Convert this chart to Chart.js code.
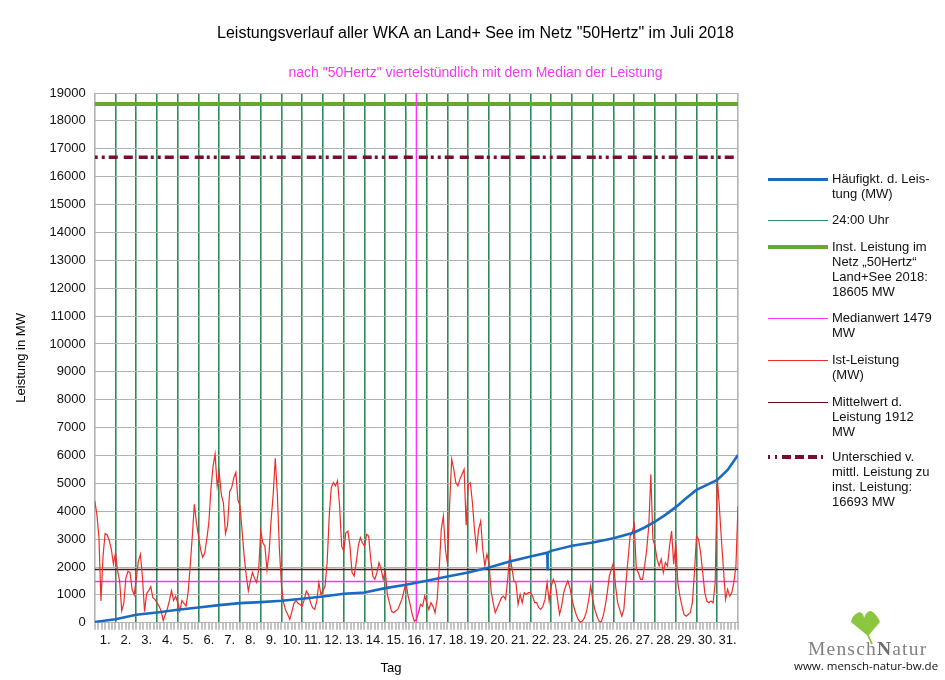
<!DOCTYPE html>
<html>
<head>
<meta charset="utf-8">
<script src="https://cdn.jsdelivr.net/npm/chart.js@4.4.1/dist/chart.umd.min.js"></script>
<style>
  body { margin: 0; background: #fff; }
  #wrap { position: relative; width: 945px; height: 680px; font-family: "Liberation Sans", Arial, sans-serif; }
  canvas { position: absolute; left: 0; top: 0; }
  .item { position: absolute; left: 768px; font-size: 13px; line-height: 15px; color: #111; }
  .item .smp { position: absolute; left: 0; width: 60px; }
  .item svg { position: absolute; left: 0; top: 0; }
  .item .txt { position: absolute; left: 64px; top: 0; white-space: nowrap; }
  #logo { position: absolute; left: 790px; top: 605px; width: 155px; height: 75px; }
  #logo .name { position: absolute; left: 18px; top: 33px; font-family: "Liberation Serif", serif; font-size: 19.5px; color: #808080; letter-spacing: 1.2px; }
  #logo .name b { font-weight: bold; color: #6e6e6e; }
  #logo .url { position: absolute; left: 4px; top: 53px; font-family: "Open Sans", sans-serif; font-size: 11.5px; color: #111; white-space: nowrap; }
</style>
</head>
<body>
<div id="wrap">
  <canvas id="myChart" width="945" height="680"></canvas>
  <div id="legend"></div>
  <div id="logo">
    <svg width="155" height="45" style="position:absolute;left:0;top:0">
      <path d="M78 31 L61 17 C62 11 66 8 70 7 C72 8 74 10 74 13 C76 8 78 6 81 6 C85 8 88 12 90 17 Z" fill="#8cc63e"/>
      <path d="M78 30 Q80 35 82 39" stroke="#8cc63e" stroke-width="1.8" fill="none"/>
    </svg>
    <div class="name">Mensch<b>N</b>atur</div>
    <div class="url">www. mensch-natur-bw.de</div>
  </div>
</div>
<script>
// Juli 2018, Tage 1..31
const dayLabels = ['1.','2.','3.','4.','5.','6.','7.','8.','9.','10.','11.','12.','13.','14.','15.','16.',
  '17.','18.','19.','20.','21.','22.','23.','24.','25.','26.','27.','28.','29.','30.','31.'];

const samplesPerDay = 10;
const istMW = [
  4370, 3900, 3100, 780, 2400, 3200, 3150, 2950, 2630, 2100,
  2500, 1860, 1500, 430, 700, 1600, 1850, 1800, 1200, 1000,
  1560, 2200, 2460, 1620, 400, 1050, 1150, 1300, 900, 840,
  720, 600, 420, 80, 300, 500, 800, 1150, 800, 950,
  720, 420, 800, 700, 600, 1100, 2040, 3100, 4250, 3600,
  3100, 2630, 2350, 2500, 3000, 3600, 4800, 5600, 6050, 4900,
  5400, 4600, 4300, 3200, 3500, 4700, 4850, 5200, 5400, 4400,
  4200, 3300, 2400, 1700, 1140, 1500, 1800, 1600, 1450, 1900,
  3300, 2870, 2750, 1900, 2500, 3700, 4600, 5900, 4600, 2630,
  1320, 720, 450, 300, 120, 400, 700, 800, 700, 650,
  600, 840, 1140, 1020, 720, 540, 480, 780, 1440, 1020,
  1140, 1320, 2160, 3830, 4850, 5030, 4910, 5090, 4190, 2750,
  2570, 3230, 3290, 2750, 1800, 1680, 2160, 2750, 3050, 2870,
  2750, 3170, 3110, 2280, 1680, 1560, 1800, 2160, 1920, 1560,
  1860, 1020, 720, 420, 360, 420, 480, 660, 840, 1140,
  1440, 960, 660, 300, 60, 120, 360, 660, 600, 960,
  720, 480, 720, 600, 360, 840, 1920, 3350, 3830, 2630,
  2100, 4190, 5870, 5510, 5030, 4910, 5150, 5330, 5510, 3500,
  4970, 5030, 4310, 3350, 2630, 3350, 3650, 2630, 2040, 2460,
  2160, 1140, 720, 360, 540, 720, 900, 960, 840, 1560,
  2460, 1980, 1500, 1440, 660, 1020, 720, 1080, 1020, 1080,
  1080, 960, 720, 720, 540, 480, 600, 840, 1440, 780,
  1320, 1560, 1380, 840, 300, 600, 1080, 1320, 1500, 1260,
  840, 540, 300, 120, 24, 60, 180, 400, 800, 1320,
  840, 480, 240, 60, 24, 240, 600, 1080, 1680, 1920,
  2160, 1320, 720, 480, 240, 480, 1440, 2280, 3110, 3230,
  3530, 1920, 1800, 1560, 1560, 2040, 2630, 3470, 5330, 2990,
  2750, 2280, 2040, 2280, 1800, 2160, 2040, 2750, 3290, 2100,
  2870, 1440, 960, 600, 300, 240, 300, 360, 720, 1800,
  3110, 2990, 2510, 1800, 1080, 780, 720, 780, 720, 1440,
  5210, 4190, 2990, 1920, 840, 1200, 960, 1080, 1440, 2040,
  4190
];

// Haeufigkeit d. Leistung (sortiert)
const sortedDays = [0, 1, 2, 3, 4, 5, 6, 7, 8, 9, 10, 11, 12, 13, 14, 15, 16, 17, 18, 19, 20, 21,
  21.81, 21.82, 21.83, 22, 23, 24, 25, 26, 26.5, 27, 27.5, 28, 28.5, 29, 29.5, 30, 30.5, 31];
const sortedMW = [30, 130, 290, 370, 466, 550, 634, 706, 742, 789, 860, 944, 1040, 1087, 1243, 1362,
  1505, 1660, 1804, 1983, 2198, 2377, 2515, 1875, 2520, 2580, 2760, 2878, 3035, 3237, 3418, 3631,
  3871, 4147, 4469, 4767, 4946, 5125, 5484, 6021];

const instLeistung = 18605;
const unterschied = 16693;
const medianwert = 1479;
const mittelwert = 1912;
const medianDay = 15.5;
const monthDays = 31;

const yTicks = { min: 0, max: 19000, step: 1000 };

const cGreenDay = '#2f8a5a';
const cGrid = '#b3b3b3';

function hline(v) {
  return [{ x: 0, y: v }, { x: monthDays, y: v }];
}

const datasets = [
  {
    label: 'Häufigkt. d. Leistung (MW)',
    data: sortedDays.map((d, i) => ({ x: d, y: sortedMW[i] })),
    borderColor: '#1b6ac2', borderWidth: 2.6
  },
  {
    label: 'Ist-Leistung (MW)',
    data: istMW.map((v, i) => ({ x: i / samplesPerDay, y: v })),
    borderColor: '#ea2f2a', borderWidth: 1.2
  },
  {
    label: 'Medianwert 1479 MW',
    data: hline(medianwert).concat([{ x: medianDay, y: null }, { x: medianDay, y: yTicks.min }, { x: medianDay, y: yTicks.max }]),
    borderColor: '#ff33ff', borderWidth: 1.4, spanGaps: false
  },
  {
    label: 'Mittelwert d. Leistung 1912 MW',
    data: hline(mittelwert),
    borderColor: '#5a0c18', borderWidth: 1.3
  },
  {
    label: 'Unterschied v. mittl. Leistung zu inst. Leistung: 16693 MW',
    data: hline(unterschied),
    borderColor: '#7a0d2e', borderWidth: 3.5,
    borderDash: [3, 4, 3, 4, 9, 6, 9, 6, 9, 3]
  },
  {
    label: 'Inst. Leistung im Netz 50Hertz Land+See 2018: 18605 MW',
    data: hline(instLeistung),
    borderColor: '#66a832', borderWidth: 4
  }
];

const font = { family: '"Liberation Sans", Arial, sans-serif', size: 13 };

new Chart(document.getElementById('myChart'), {
  type: 'line',
  data: { datasets: datasets },
  options: {
    responsive: false,
    animation: false,
    devicePixelRatio: 1,
    parsing: false,
    elements: { point: { radius: 0 }, line: { tension: 0, borderCapStyle: 'butt' } },
    layout: { padding: { left: 6, top: 0, right: 0, bottom: 0 } },
    plugins: {
      legend: { display: false },
      tooltip: { enabled: false },
      title: {
        display: true,
        text: 'Leistungsverlauf aller WKA an Land+ See im Netz "50Hertz" im Juli 2018',
        color: '#000',
        font: { family: font.family, size: 16, weight: 'normal' },
        padding: { top: 24, bottom: 10 }
      },
      subtitle: {
        display: true,
        text: 'nach "50Hertz" viertelstündlich mit dem Median der Leistung',
        color: '#ee3bee',
        font: { family: font.family, size: 14 },
        padding: { top: 12, bottom: 11 }
      }
    },
    scales: {
      x: {
        type: 'linear', min: 0, max: monthDays, weight: 1,
        border: { display: false },
        grid: {
          drawTicks: false,
          lineWidth: 1.6,
          color: (ctx) => (ctx.tick && ctx.tick.value > 0 && ctx.tick.value < monthDays) ? cGreenDay : cGrid
        },
        ticks: {
          stepSize: 1, autoSkip: false, maxRotation: 0, padding: 3,
          labelOffset: 10.4, color: '#111', font: font,
          callback: (v) => dayLabels[v] || ''
        },
        title: {
          display: true,
          text: 'Tag' + '\u00A0'.repeat(14),
          color: '#000', font: font, padding: { top: 9, bottom: 4 }
        }
      },
      xq: {
        type: 'linear', min: 0, max: monthDays, position: 'bottom', weight: 0,
        border: { display: true, color: cGrid },
        grid: { drawOnChartArea: false, drawTicks: true, tickLength: 7, color: '#c4c4c4', lineWidth: 2 },
        ticks: { display: false, stepSize: 1 / 6 }
      },
      y: {
        min: yTicks.min, max: yTicks.max,
        border: { display: true, color: cGrid },
        grid: { color: cGrid, drawTicks: false },
        ticks: { stepSize: yTicks.step, padding: 9, color: '#111', font: font, callback: (v) => String(v) },
        title: { display: true, text: 'Leistung in MW', color: '#000', font: font, padding: { top: 8, bottom: 11 } }
      },
      yR: {
        position: 'right', display: true,
        grid: { display: false }, border: { display: false },
        ticks: { display: false },
        afterFit: (s) => { s.width = 207; }
      }
    }
  }
});

// HTML-Legende rechts
const legendItems = [
  { top: 171, text: 'Häufigkt. d. Leis-<br>tung (MW)', color: '#1b6ac2', width: 3 },
  { top: 212, text: '24:00 Uhr', color: '#2f8a70', width: 1 },
  { top: 239, text: 'Inst. Leistung im<br>Netz „50Hertz“<br>Land+See 2018:<br>18605 MW', color: '#66a832', width: 4 },
  { top: 310, text: 'Medianwert 1479<br>MW', color: '#ff33ff', width: 1 },
  { top: 352, text: 'Ist-Leistung<br>(MW)', color: '#ea2f2a', width: 1 },
  { top: 394, text: 'Mittelwert d.<br>Leistung 1912<br>MW', color: '#5a0c18', width: 1 },
  { top: 449, text: 'Unterschied v.<br>mittl. Leistung zu<br>inst. Leistung:<br>16693 MW', color: '#7a0d2e', width: 4, dash: '2 5 2 5 9 4 9 4 9 4' }
];
const legendEl = document.getElementById('legend');
legendItems.forEach(it => {
  const d = document.createElement('div');
  d.className = 'item';
  d.style.top = it.top + 'px';
  let smp;
  if (it.dash) {
    smp = '<svg width="61" height="15"><line x1="0" y1="8" x2="60" y2="8" stroke="' + it.color +
      '" stroke-width="' + it.width + '" stroke-dasharray="' + it.dash + '"/></svg>';
  } else {
    smp = '<div class="smp" style="top:' + Math.round(8 - it.width / 2) + 'px;height:' + it.width +
      'px;background:' + it.color + '"></div>';
  }
  d.innerHTML = smp + '<div class="txt">' + it.text + '</div>';
  legendEl.appendChild(d);
});
</script>
</body>
</html>
